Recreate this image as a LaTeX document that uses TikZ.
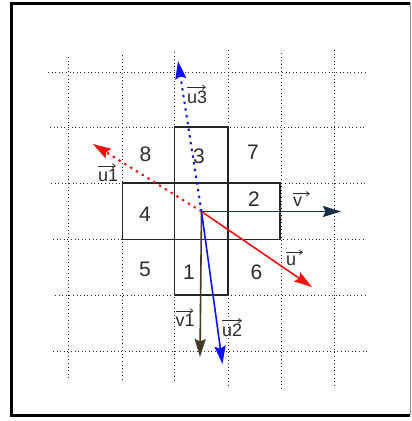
\documentclass[tikz,border=0pt]{standalone}
\usepackage{fontspec}
\setmainfont{Liberation Sans}
\usetikzlibrary{arrows.meta}
\definecolor{vcol}{RGB}{25,48,66}
\definecolor{v1col}{RGB}{68,58,38}
\definecolor{ucol}{RGB}{245,15,15}
\definecolor{bcol}{RGB}{15,15,245}
\definecolor{labcol}{RGB}{45,45,45}
\begin{document}
\begin{tikzpicture}[x=1pt,y=-1pt,
  gridline/.style={black!85,line width=1pt,dash pattern=on 1pt off 2.6pt},
  boxline/.style={black!85,line width=1.3pt},
  vec/.style={line width=1.6pt,-{Stealth[length=18pt,width=11pt,inset=2.5pt]}},
  dotvec/.style={line width=2pt,dash pattern=on 2.4pt off 4.4pt,-{Stealth[length=18pt,width=11pt,inset=2.5pt]}},
  digit/.style={font=\fontsize{21}{23}\selectfont,text=labcol,anchor=base,inner sep=0pt},
  vlab/.style={font=\fontsize{18}{20}\selectfont,text=labcol,anchor=base west,inner sep=0pt},
  labarrow/.style={labcol,line width=0.8pt,-{Straight Barb[length=3pt,width=4.5pt]}}]
\useasboundingbox (0,0) rectangle (412,421);
% frame
\draw[line width=3pt] (410,3) -- (11.5,3) -- (11.5,415) -- (410,415);
\draw[black!45,line width=1pt] (410.5,3) -- (410.5,415);
% dotted grid
\draw[gridline] (68,57) -- (68,380);
\draw[gridline] (122.5,55) -- (122.5,380);
\draw[gridline] (174.5,52) -- (174.5,383);
\draw[gridline] (228,50) -- (228,388);
\draw[gridline] (281,53) -- (281,391);
\draw[gridline] (334.5,50) -- (334.5,388);
\draw[gridline] (48,72) -- (368,72);
\draw[gridline] (50,127) -- (364,127);
\draw[gridline] (51,183) -- (366,183);
\draw[gridline] (53,239.5) -- (366,239.5);
\draw[gridline] (55,295) -- (366,295);
\draw[gridline] (53,351) -- (367,351);
% cross of boxes
\draw[boxline] (174.5,127) rectangle (228,183);
\draw[boxline] (122.5,183) rectangle (280,239.5);
\draw[boxline] (174.5,183) -- (174.5,239.5) (228,183) -- (228,239.5);
\draw[boxline] (174.5,239.5) rectangle (228,295);
% digits
\node[digit] (n8) at (145.5,161.5) {8};
\node[digit] (n3) at (199,163) {3};
\node[digit] (n7) at (253,159) {7};
\node[digit] (n4) at (145,221.5) {4};
\node[digit] (n2) at (254,206.5) {2};
\node[digit] (n5) at (145,276.5) {5};
\node[digit] (n1) at (189,279) {1};
\node[digit] (n6) at (256.5,279) {6};
% vectors
\coordinate (O) at (201.5,211.5);
\coordinate (vT) at (341,211.5);
\coordinate (uT) at (312,287);
\coordinate (v1T) at (200,357);
\coordinate (u2T) at (222.5,364);
\coordinate (u3T) at (178,61);
\coordinate (u1T) at (93,144);
\draw[dotvec,ucol] (O) -- (u1T);
\draw[dotvec,bcol] (O) -- (u3T);
\draw[vec,v1col] (O) -- (v1T);
\draw[vec,bcol] (O) -- (u2T);
\draw[vec,ucol] (O) -- (uT);
\draw[vec,vcol] (O) -- (vT);
% labels
\node[vlab] (lu3) at (187,103) {u3};
\node[vlab] (lu1) at (98,181.5) {u1};
\node[vlab] (lv) at (293,206.5) {v};
\node[vlab] (lu) at (286,265) {u};
\node[vlab] (lv1) at (175.5,326.5) {v1};
\node[vlab] (lu2) at (222,336.5) {u2};
\draw[labarrow] ([yshift=3pt]lu3.north west) -- ++(19,0);
\draw[labarrow] ([yshift=3pt]lu1.north west) -- ++(18,0);
\draw[labarrow] ([yshift=3pt]lv.north west) -- ++(17,0);
\draw[labarrow] ([yshift=3pt]lu.north west) -- ++(17,0);
\draw[labarrow] ([yshift=3pt]lv1.north west) -- ++(18,0);
\draw[labarrow] ([yshift=3pt]lu2.north west) -- ++(20,0);
\end{tikzpicture}
\end{document}
